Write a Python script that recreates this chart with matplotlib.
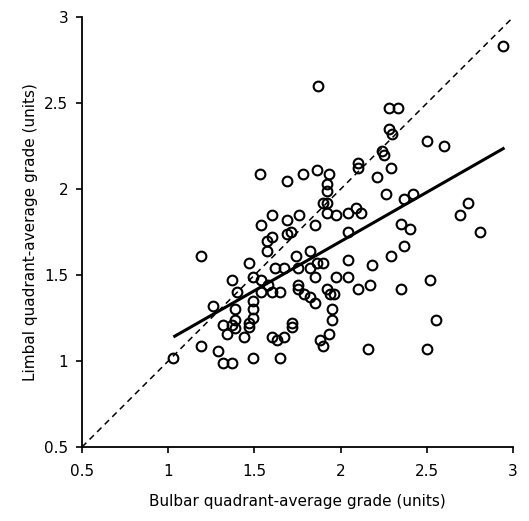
import matplotlib
matplotlib.use("Agg")
import matplotlib.pyplot as plt

# bulbar (x) vs limbal (y) quadrant-average grades
bulbar = [
    2.94, 1.87, 2.28, 2.33, 2.28, 2.30, 2.50, 2.60, 2.24, 2.25,
    2.10, 2.10, 2.29, 2.21, 1.53, 1.69, 1.78, 1.86, 1.93, 1.92,
    1.92, 2.26, 2.37, 2.42, 2.74, 2.69, 2.81, 2.35, 2.40, 2.37,
    2.29, 2.35, 2.52, 2.55, 2.16, 2.50, 2.18, 2.17, 2.10, 2.04,
    2.04, 2.04, 2.04, 2.09, 2.12, 1.97, 1.92, 1.90, 1.92, 1.85,
    1.76, 1.69, 1.71, 1.69, 1.60, 1.54, 1.60, 1.57, 1.57, 1.19,
    1.74, 1.82, 1.86, 1.90, 1.82, 1.75, 1.67, 1.62, 1.47, 1.49,
    1.54, 1.37, 1.58, 1.40, 1.54, 1.60, 1.65, 1.75, 1.75, 1.79,
    1.82, 1.85, 1.85, 1.92, 1.96, 1.94, 1.97, 1.95, 1.95, 1.93,
    1.88, 1.90, 1.26, 1.39, 1.49, 1.49, 1.49, 1.39, 1.37, 1.32,
    1.34, 1.39, 1.44, 1.47, 1.47, 1.72, 1.72, 1.67, 1.60, 1.63,
    1.19, 1.29, 1.49, 1.65, 1.32, 1.37, 1.03,
]
limbal = [
    2.83, 2.60, 2.47, 2.47, 2.35, 2.32, 2.28, 2.25, 2.22, 2.20,
    2.15, 2.12, 2.12, 2.07, 2.09, 2.05, 2.09, 2.11, 2.09, 2.03,
    1.99, 1.97, 1.94, 1.97, 1.92, 1.85, 1.75, 1.80, 1.77, 1.67,
    1.61, 1.42, 1.47, 1.24, 1.07, 1.07, 1.56, 1.44, 1.42, 1.59,
    1.49, 1.75, 1.86, 1.89, 1.86, 1.85, 1.86, 1.92, 1.92, 1.79,
    1.85, 1.82, 1.75, 1.74, 1.85, 1.79, 1.72, 1.70, 1.64, 1.61,
    1.61, 1.64, 1.57, 1.57, 1.54, 1.54, 1.54, 1.54, 1.57, 1.49,
    1.47, 1.47, 1.44, 1.40, 1.40, 1.40, 1.40, 1.44, 1.42, 1.39,
    1.37, 1.34, 1.49, 1.42, 1.39, 1.39, 1.49, 1.30, 1.24, 1.16,
    1.12, 1.09, 1.32, 1.30, 1.35, 1.30, 1.25, 1.24, 1.21, 1.21,
    1.16, 1.19, 1.14, 1.20, 1.22, 1.22, 1.20, 1.14, 1.14, 1.12,
    1.09, 1.06, 1.02, 1.02, 0.99, 0.99, 1.02,
]

# regression line end points and line of identity
fit_x = [1.03, 2.95]
fit_y = [1.14, 2.24]
identity = [0.5, 3.0]

ticks = [0.5, 1, 1.5, 2, 2.5, 3]
tick_labels = ["0.5", "1", "1.5", "2", "2.5", "3"]

fig = plt.figure(figsize=(5.29, 5.21), dpi=100)
ax = fig.add_axes([0.155, 0.142, 0.815, 0.825])

ax.plot(identity, identity, color="black", linestyle=(0, (4, 3)), linewidth=1.1)
ax.plot(fit_x, fit_y, color="black", linewidth=2.2, solid_capstyle="butt")
ax.plot(bulbar, limbal, linestyle="none", marker="o", markersize=7,
        markerfacecolor="none", markeredgecolor="black", markeredgewidth=1.5)

ax.set_xlim(0.5, 3)
ax.set_ylim(0.5, 3)
ax.set_xticks(ticks)
ax.set_xticklabels(tick_labels)
ax.set_yticks(ticks)
ax.set_yticklabels(tick_labels)
ax.tick_params(direction="out", length=4, width=1.2, labelsize=11)
ax.tick_params(axis="x", pad=8)
ax.tick_params(axis="y", pad=6)

for side in ["top", "right"]:
    ax.spines[side].set_visible(False)
for side in ["left", "bottom"]:
    ax.spines[side].set_linewidth(1.3)

ax.set_xlabel("Bulbar quadrant-average grade (units)", fontsize=11, labelpad=11)
ax.set_ylabel("Limbal quadrant-average grade (units)", fontsize=11, labelpad=4)

fig.savefig("out.png", dpi=100)
